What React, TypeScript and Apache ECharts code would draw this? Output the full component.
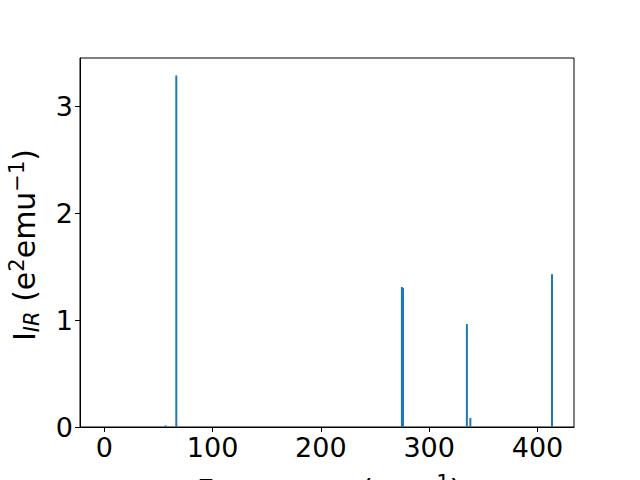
import React, { useEffect, useRef } from "react";
import * as echarts from "echarts";

const freqs = [0, 56.6, 66.5, 274.8, 275.8, 334.8, 338.0, 413.4];
const intensities = [0, 0.015, 3.29, 1.31, 1.3, 0.963, 0.084, 1.43];
const xTicks = [0, 100, 200, 300, 400];
const yTicks = [0, 1, 2, 3];

const FONT = "DejaVu Sans";

export default function App() {
  const ref = useRef<HTMLDivElement>(null);
  useEffect(() => {
    document.body.style.margin = "0";
    const chart = echarts.init(ref.current!, null, { renderer: "svg" });
    const rich = {
      m: { fontSize: 30, fontFamily: FONT, color: "#000", lineHeight: 36, verticalAlign: "middle" },
      sup: { fontSize: 21, fontFamily: FONT, color: "#000", lineHeight: 36, verticalAlign: "top" },
      sub: { fontSize: 21, fontFamily: FONT, color: "#000", fontStyle: "italic", lineHeight: 36, verticalAlign: "bottom" },
    };
    chart.setOption({
      animation: false,
      grid: {
        left: 80,
        right: 66,
        top: 58,
        bottom: 53,
        show: true,
        borderColor: "#000",
        borderWidth: 1,
        backgroundColor: "#fff",
      },
      xAxis: {
        type: "value",
        min: -22.4,
        max: 433.7,
        splitLine: { show: false },
        axisLine: { show: true, onZero: false, lineStyle: { color: "#000", width: 1 } },
        axisTick: { show: true, length: 5, lineStyle: { color: "#000" }, customValues: xTicks },
        axisLabel: {
          customValues: xTicks,
          fontSize: 27,
          fontFamily: FONT,
          color: "#000",
          margin: 7,
        },
      },
      yAxis: {
        type: "value",
        min: 0,
        max: 3.453,
        splitLine: { show: false },
        axisLine: { show: true, onZero: false, lineStyle: { color: "#000", width: 1 } },
        axisTick: { show: true, length: 5, lineStyle: { color: "#000" }, customValues: yTicks },
        axisLabel: {
          customValues: yTicks,
          fontSize: 27,
          fontFamily: FONT,
          color: "#000",
          margin: 7,
        },
      },
      series: [
        {
          type: "bar",
          barWidth: 2,
          barGap: "-100%",
          itemStyle: { color: "#1f77b4" },
          data: freqs.map((f, i) => [f, intensities[i]]),
        },
      ],
      graphic: [
        {
          type: "text",
          x: 329,
          y: 472,
          style: {
            text: "{m|Frequency (cm}{sup|−1}{m|)}",
            rich,
            align: "center",
            verticalAlign: "top",
          },
        },
        {
          type: "text",
          x: 24,
          y: 245,
          rotation: Math.PI / 2,
          style: {
            text: "{m|I}{sub|IR}{m| (e}{sup|2}{m|emu}{sup|−1}{m|)}",
            rich,
            align: "center",
            verticalAlign: "middle",
          },
        },
      ],
    });
    return () => chart.dispose();
  }, []);
  return <div ref={ref} style={{ width: 640, height: 480 }} />;
}
